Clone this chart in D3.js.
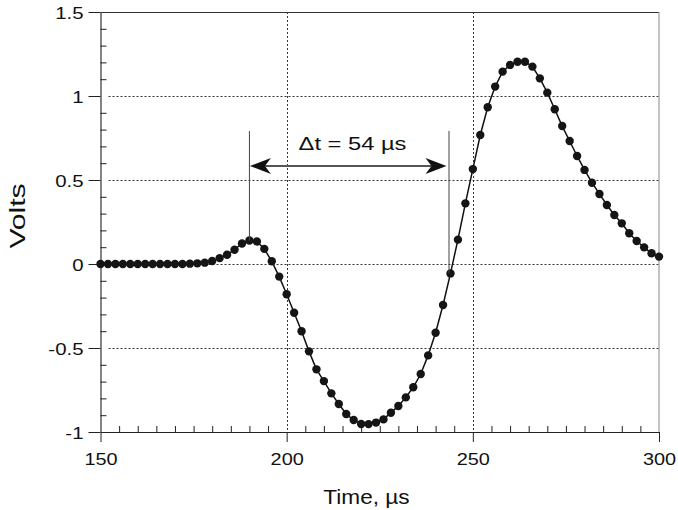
<!DOCTYPE html>
<html>
<head>
<meta charset="utf-8">
<script src="https://cdn.jsdelivr.net/npm/d3@7/dist/d3.min.js"></script>
<style>
  html, body { margin: 0; padding: 0; background: #fff; }
  svg { display: block; }
  text { font-family: "Liberation Sans", Arial, Helvetica, sans-serif; fill: #111; }
</style>
</head>
<body>
<svg id="chart" width="678" height="510"></svg>
<script>
// ---- data ----
const times = [150,152,154,156,158,160,162,164,166,168,170,172,174,176,178,180,182,184,186,188,
               190,192,194,196,198,200,202,204,206,208,210,212,214,216,218,220,222,224,226,228,
               230,232,234,236,238,240,242,244,246,248,250,252,254,256,258,260,262,264,266,268,
               270,272,274,276,278,280,282,284,286,288,290,292,294,296,298,300];
const volts = [0,0,0,0,0,0,0,0,0,0,0,0,0.002,0.004,0.008,0.018,0.035,0.055,0.085,0.122,
               0.140,0.134,0.090,0.016,-0.075,-0.180,-0.290,-0.400,-0.520,-0.627,-0.697,-0.770,-0.833,-0.893,-0.929,-0.952,-0.953,-0.944,-0.925,-0.885,
               -0.845,-0.794,-0.734,-0.655,-0.544,-0.409,-0.244,-0.056,0.145,0.361,0.565,0.768,0.933,1.056,1.145,1.185,1.204,1.204,1.175,1.105,
               1.020,0.921,0.821,0.732,0.643,0.560,0.484,0.417,0.351,0.292,0.242,0.183,0.137,0.099,0.064,0.044];
const xTickValues = [150, 200, 250, 300];
const xTickLabels = ["150", "200", "250", "300"];
const xMinorTicks = [155,160,165,170,175,180,185,190,195,205,210,215,220,225,230,235,240,245,
                     255,260,265,270,275,280,285,290,295];
const yTickValues = [-1, -0.5, 0, 0.5, 1, 1.5];
const yTickLabels = ["-1", "-0.5", "0", "0.5", "1", "1.5"];
const yMinorTicks = [-0.9,-0.8,-0.7,-0.6,-0.4,-0.3,-0.2,-0.1,0.1,0.2,0.3,0.4,0.6,0.7,0.8,0.9,1.1,1.2,1.3,1.4];
const xGrid = [200, 250];
const yGrid = [-0.5, 0, 0.5, 1];
const markerTimes = [190, 243.6];
const markerVolts = [0.140, -0.056];
const markerTop = 0.792;
const arrowLevel = 0.583;
const annotation = "\u0394t = 54 \u00B5s";
const xTitle = "Time, \u00B5s";
const yTitle = "Volts";

// ---- layout ----
const L = 100.5, R = 659, T = 12, B = 432;
const svg = d3.select("#chart");
const x = d3.scaleLinear().domain([150, 300]).range([L, R]);
const y = d3.scaleLinear().domain([-1, 1.5]).range([B, T]);

// stretch text horizontally (the reference face is wider than Liberation Sans)
function widen(sel, f) {
  sel.each(function() {
    const w = this.getComputedTextLength();
    d3.select(this).attr("textLength", w * f).attr("lengthAdjust", "spacingAndGlyphs");
  });
}

// gridlines
const grid = svg.append("g").attr("stroke", "#333").attr("stroke-width", 1).attr("stroke-dasharray", "2,2");
grid.selectAll("line.gx").data(xGrid).join("line").attr("class", "gx")
  .attr("x1", d => Math.round(x(d)) + 0.5).attr("x2", d => Math.round(x(d)) + 0.5)
  .attr("y1", T).attr("y2", B);
grid.selectAll("line.gy").data(yGrid).join("line").attr("class", "gy")
  .attr("x1", L + 8).attr("x2", R)
  .attr("y1", d => Math.round(y(d)) + 0.5).attr("y2", d => Math.round(y(d)) + 0.5);

// frame: top and right
svg.append("line").attr("x1", L).attr("x2", R).attr("y1", T + 0.5).attr("y2", T + 0.5)
  .attr("stroke", "#333").attr("stroke-width", 1.2);
svg.append("line").attr("x1", R).attr("x2", R).attr("y1", T).attr("y2", B)
  .attr("stroke", "#888").attr("stroke-width", 1);

// x axis major
const xAxis = svg.append("g").attr("transform", `translate(0,${B})`)
  .call(d3.axisBottom(x).tickValues(xTickValues).tickSize(10).tickSizeOuter(0).tickPadding(11)
        .tickFormat((d, i) => xTickLabels[i]));
xAxis.select(".domain").attr("stroke", "#222").attr("stroke-width", 1.2);
xAxis.selectAll(".tick line").attr("stroke", "#222");
xAxis.selectAll("text").attr("font-size", 17)
  .attr("font-family", "Liberation Sans, Arial, sans-serif").attr("fill", "#111")
  .call(widen, 1.17);

// x axis minor
const xMin = svg.append("g").attr("transform", `translate(0,${B})`)
  .call(d3.axisBottom(x).tickValues(xMinorTicks).tickSize(-6).tickSizeOuter(0).tickFormat(""));
xMin.select(".domain").remove();
xMin.selectAll(".tick line").attr("stroke", "#222");

// y axis major
const yAxis = svg.append("g").attr("transform", `translate(${L},0)`)
  .call(d3.axisLeft(y).tickValues(yTickValues).tickSize(12).tickSizeOuter(0).tickPadding(5)
        .tickFormat((d, i) => yTickLabels[i]));
yAxis.select(".domain").attr("stroke", "#333").attr("stroke-width", 1.2);
yAxis.selectAll(".tick line").attr("stroke", "#222");
yAxis.selectAll("text").attr("font-size", 17).attr("dy", "0.36em")
  .attr("font-family", "Liberation Sans, Arial, sans-serif").attr("fill", "#111")
  .call(widen, 1.2);

// y axis minor
const yMin = svg.append("g").attr("transform", `translate(${L},0)`)
  .call(d3.axisLeft(y).tickValues(yMinorTicks).tickSize(-6).tickSizeOuter(0).tickFormat(""));
yMin.select(".domain").remove();
yMin.selectAll(".tick line").attr("stroke", "#222");

// data line and points
const pts = times.map((t, i) => [t, volts[i]]);
svg.append("path").datum(pts)
  .attr("d", d3.line().x(d => x(d[0])).y(d => y(d[1])))
  .attr("fill", "none").attr("stroke", "#111").attr("stroke-width", 1.5);
svg.append("g").selectAll("circle").data(pts).join("circle")
  .attr("cx", d => x(d[0])).attr("cy", d => y(d[1])).attr("r", 4.2).attr("fill", "#151515");

// annotation
const ann = svg.append("g");
ann.selectAll("line.mk").data(markerTimes).join("line").attr("class", "mk")
  .attr("x1", d => x(d)).attr("x2", d => x(d))
  .attr("y1", y(markerTop)).attr("y2", (d, i) => y(markerVolts[i]))
  .attr("stroke", "#444").attr("stroke-width", 1);
const ax0 = x(markerTimes[0]) + 0.5, ax1 = x(markerTimes[1]) - 2.5, ay = y(arrowLevel);
ann.append("line").attr("x1", ax0 + 15).attr("x2", ax1 - 15).attr("y1", ay).attr("y2", ay)
  .attr("stroke", "#555").attr("stroke-width", 2);
ann.append("path")
  .attr("d", `M${ax0},${ay} L${ax0 + 21},${ay - 8} L${ax0 + 15},${ay} L${ax0 + 21},${ay + 8} Z`)
  .attr("fill", "#111");
ann.append("path")
  .attr("d", `M${ax1},${ay} L${ax1 - 21},${ay - 8} L${ax1 - 15},${ay} L${ax1 - 21},${ay + 8} Z`)
  .attr("fill", "#111");
ann.append("text").attr("x", 352.5).attr("y", 150).attr("text-anchor", "middle")
  .attr("font-size", 18.5).text(annotation).call(widen, 1.28);

// axis titles
svg.append("text").attr("x", 366.5).attr("y", 504).attr("text-anchor", "middle")
  .attr("font-size", 20).text(xTitle).call(widen, 1.13);
svg.append("text").attr("transform", "translate(25,216) rotate(-90)").attr("text-anchor", "middle")
  .attr("font-size", 21.5).text(yTitle).call(widen, 1.4);
</script>
</body>
</html>
